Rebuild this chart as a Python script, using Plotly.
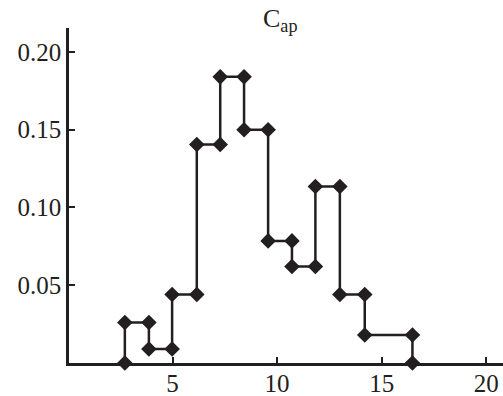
import plotly.graph_objects as go

# bin edges (x) and step heights (y)
edges = [2.72, 3.87, 4.98, 6.16, 7.28, 8.42, 9.57, 10.71, 11.83, 13.0, 14.19, 16.47]
values = [0.026, 0.009, 0.044, 0.1405, 0.184, 0.150, 0.0785, 0.062, 0.1135, 0.044, 0.018]
x_ticks = [5, 10, 15, 20]
y_ticks = [0.05, 0.10, 0.15, 0.20]
y_tick_text = ["0.05", "0.10", "0.15", "0.20"]
title_text = "C<sub>ap</sub>"

# build step outline
xs = [edges[0]]
ys = [0]
for i, v in enumerate(values):
    xs += [edges[i], edges[i + 1]]
    ys += [v, v]
xs.append(edges[-1])
ys.append(0)

ink = "#231f20"
fig = go.Figure()
fig.add_trace(go.Scatter(
    x=xs, y=ys, mode="lines+markers",
    line=dict(color=ink, width=2.5),
    marker=dict(symbol="diamond", size=12, color=ink),
    cliponaxis=False, showlegend=False,
))

axis_font = dict(family="Liberation Serif", size=25, color=ink)
fig.update_layout(
    width=503, height=396,
    margin=dict(l=69, r=0, t=28, b=33, autoexpand=False),
    paper_bgcolor="white", plot_bgcolor="white",
    xaxis=dict(range=[0.05, 20.8], tickvals=x_ticks, ticks="inside", ticklen=6,
               tickwidth=2, tickcolor=ink, showline=True, linecolor=ink, linewidth=2.5,
               showgrid=False, zeroline=False, tickfont=axis_font, automargin=False,
               ticklabelstandoff=-4),
    yaxis=dict(range=[0, 0.2154], tickvals=y_ticks, ticktext=y_tick_text, ticks="inside",
               ticklen=6, tickwidth=2, tickcolor=ink, showline=True, linecolor=ink,
               linewidth=2.5, showgrid=False, zeroline=False, tickfont=axis_font,
               automargin=False),
    annotations=[dict(text=title_text, xref="paper", yref="paper", x=0.488, y=1.025,
                      xanchor="center", yanchor="middle", showarrow=False,
                      font=dict(family="Liberation Serif", size=26, color=ink))],
)
fig.write_html(
    "out.html",
    config={"displayModeBar": False},
    post_script="document.body.style.margin='0';document.body.style.padding='0';"
                "document.body.style.overflow='hidden';",
)
